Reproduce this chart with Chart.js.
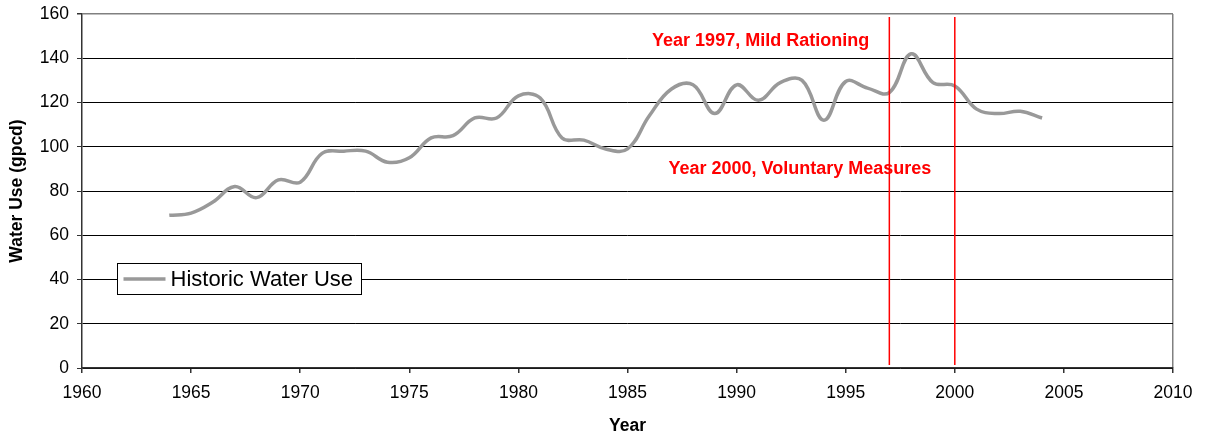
<!DOCTYPE html>
<html>
<head>
<meta charset="utf-8">
<script src="https://cdn.jsdelivr.net/npm/chart.js@4.4.1/dist/chart.umd.min.js"></script>
<style>
  html, body { margin: 0; padding: 0; background: #fff; }
  #wrap { width: 1208px; height: 439px; }
</style>
</head>
<body>
<div id="wrap"><canvas id="waterChart" width="1208" height="439"></canvas></div>
<script>
var years = [1964, 1965, 1966, 1967, 1968, 1969, 1970, 1971, 1972, 1973, 1974, 1975, 1976, 1977,
  1978, 1979, 1980, 1981, 1982, 1983, 1984, 1985, 1986, 1987, 1988, 1989, 1990, 1991, 1992, 1993,
  1994, 1995, 1996, 1997, 1998, 1999, 2000, 2001, 2002, 2003, 2004];
var waterUse = [69, 70, 75, 82, 77, 85, 84, 97, 98, 98, 93, 95, 104, 105,
  113, 113, 123, 122, 104, 103, 99, 99, 114, 126, 128, 115, 128, 121, 129, 130,
  112, 129.5, 126.5, 124.5, 142, 129, 127.5, 117, 115, 116, 113];
var eventYears = [1997, 2000];
var eventLabels = ["Year 1997, Mild Rationing", "Year 2000, Voluntary Measures"];
var eventLabelPos = [{ x: 1991.1, y: 148 }, { x: 1992.9, y: 90 }];
var xTicks = [1960, 1965, 1970, 1975, 1980, 1985, 1990, 1995, 2000, 2005, 2010];

var gray = "#999999";
var red = "#ff0000";
var font = "'Liberation Sans', Arial, sans-serif";

var points = [];
for (let i = 0; i < years.length; i++) {
  points.push({ x: years[i], y: waterUse[i] });
}

// Lignes rouges et textes des mesures
var eventsPlugin = {
  id: "events",
  afterDatasetsDraw(chart) {
    let ctx = chart.ctx;
    let xs = chart.scales.x;
    let ys = chart.scales.y;
    let area = chart.chartArea;
    ctx.save();
    ctx.strokeStyle = red;
    ctx.lineWidth = 1.5;
    for (let yr of eventYears) {
      let px = xs.getPixelForValue(yr);
      ctx.beginPath();
      ctx.moveTo(px, area.top + 3);
      ctx.lineTo(px, area.bottom - 3);
      ctx.stroke();
    }
    ctx.fillStyle = red;
    ctx.font = "bold 18px " + font;
    ctx.textAlign = "center";
    ctx.textBaseline = "middle";
    for (let i = 0; i < eventLabels.length; i++) {
      ctx.fillText(eventLabels[i], xs.getPixelForValue(eventLabelPos[i].x), ys.getPixelForValue(eventLabelPos[i].y));
    }
    ctx.restore();
  },
};

// Légende encadrée dans la zone du graphique
var boxLegendPlugin = {
  id: "boxLegend",
  afterDraw(chart) {
    let ctx = chart.ctx;
    let area = chart.chartArea;
    let ds = chart.data.datasets[0];
    let left = area.left + 35.5;
    let top = 263.5;
    let w = 244;
    let h = 31;
    ctx.save();
    ctx.fillStyle = "#fff";
    ctx.fillRect(left, top, w, h);
    ctx.strokeStyle = "#000";
    ctx.lineWidth = 1;
    ctx.strokeRect(left, top, w, h);
    ctx.strokeStyle = ds.borderColor;
    ctx.lineWidth = 3.5;
    ctx.beginPath();
    ctx.moveTo(left + 6, top + h / 2);
    ctx.lineTo(left + 48, top + h / 2);
    ctx.stroke();
    ctx.fillStyle = "#000";
    ctx.font = "22px " + font;
    ctx.textBaseline = "middle";
    ctx.fillText(ds.label, left + 53, top + h / 2 + 1);
    ctx.restore();
  },
};

const ctx = document.getElementById("waterChart");
var chart = new Chart(ctx, {
  type: "line",
  data: {
    datasets: [
      {
        label: "Historic Water Use",
        data: points,
        borderColor: gray,
        backgroundColor: gray,
        borderWidth: 3.5,
        tension: 0.4,
        pointRadius: 0,
        fill: false,
      },
    ],
  },
  options: {
    responsive: false,
    animation: false,
    layout: {
      padding: { left: 0, top: 14, right: 35, bottom: 0 },
    },
    plugins: {
      legend: { display: false },
      tooltip: { enabled: false },
    },
    scales: {
      x: {
        type: "linear",
        min: 1960,
        max: 2010,
        afterBuildTicks: (axis) => {
          axis.ticks = xTicks.map((v) => ({ value: v }));
        },
        afterFit: (axis) => {
          axis.height = 71;
          axis.paddingLeft = 0;
          axis.paddingRight = 0;
        },
        ticks: {
          color: "#000",
          font: { family: font, size: 17.5 },
          padding: 10,
          maxRotation: 0,
          callback: (v) => String(v),
        },
        grid: {
          color: (c) => (c.tick && c.tick.value == 2010 ? "#808080" : "rgba(0,0,0,0)"),
          lineWidth: 1.5,
          tickColor: "#333",
          tickLength: 5,
        },
        border: { color: "#333", width: 1.5 },
        title: {
          display: true,
          text: "Year",
          color: "#000",
          font: { family: font, size: 17.5, weight: "bold" },
          padding: { top: 0, bottom: 2 },
        },
      },
      y: {
        min: 0,
        max: 160,
        afterFit: (axis) => {
          axis.width = 82;
          axis.paddingTop = 0;
          axis.paddingBottom = 0;
        },
        ticks: {
          stepSize: 20,
          color: "#000",
          font: { family: font, size: 17.5 },
          padding: 8,
        },
        grid: {
          color: (c) => (c.tick && c.tick.value == 160 ? "#808080" : "#000"),
          lineWidth: (c) => (c.tick && c.tick.value == 160 ? 1.5 : 1),
          tickColor: "#333",
          tickLength: 5,
        },
        border: { color: "#333", width: 1.5 },
        title: {
          display: true,
          text: "Water Use (gpcd)",
          color: "#000",
          font: { family: font, size: 17.5, weight: "bold" },
          padding: { top: 7, bottom: 4 },
        },
      },
    },
  },
  plugins: [eventsPlugin, boxLegendPlugin],
});
</script>
</body>
</html>
